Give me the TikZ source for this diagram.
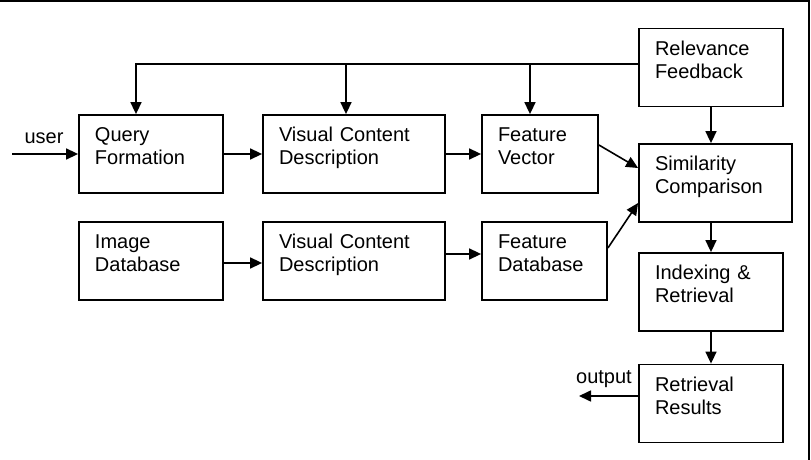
\documentclass[tikz,border=0pt]{standalone}
\usepackage{fontspec}
\setmainfont{Liberation Sans}
\usetikzlibrary{arrows.meta}

\begin{document}
\begin{tikzpicture}[x=0.5pt,y=-0.5pt,
	box/.style={draw, line width=0.9pt, inner xsep=8pt, inner ysep=0pt, text width=#1, align=left,
		text height=13.5pt, text depth=25.5pt, font=\fontsize{10}{11.5}\selectfont},
	arr/.style={-{Triangle[length=6pt,width=5.5pt]}, line width=0.8pt},
	lbl/.style={anchor=base, font=\fontsize{10}{11.5}\selectfont}]
	
	\useasboundingbox (0,0) rectangle (811,460);
	\draw[line width=1pt] (0,1) -- (809,1) -- (809,460);
	
	% upper row
	\node[box=56pt] (QF) at (151,154) {Query\\Formation};
	\node[box=75pt] (VCDa) at (354,154) {Visual Content\\Description};
	\node[box=42pt] (FV) at (540,154) {Feature\\Vector};
	
	% lower row
	\node[box=56pt] (ID) at (151,261) {Image\\Database};
	\node[box=75pt] (VCDb) at (354,261) {Visual Content\\Description};
	\node[box=46.5pt] (FD) at (544.5,261) {Feature\\Database};
	
	% right column
	\node[box=56pt] (RF) at (711,67.5) {Relevance\\Feedback};
	\node[box=60.5pt] (SC) at (715.5,183) {Similarity\\Comparison};
	\node[box=56pt] (IR) at (711,292) {Indexing \&\\Retrieval};
	\node[box=56pt] (RR) at (711,403.5) {Retrieval\\Results};
	
	\node[lbl] (user) at (44,144) {user};
	\node[lbl] (out) at (604,384) {output};
	
	\coordinate (uin) at (12,154);
	\coordinate (uout) at (579,396);
	\coordinate (fb1) at (136,64);
	\coordinate (fb2) at (346,64);
	\coordinate (fb3) at (530,64);
	
	\draw[arr] (uin) -- (QF.west);
	\draw[arr] (QF.east) -- (VCDa.west);
	\draw[arr] (VCDa.east) -- (FV.west);
	\draw[arr] ([yshift=-1pt]ID.east) -- ([yshift=-1pt]ID.east -| VCDb.west);
	\draw[arr] ([yshift=3.5pt]VCDb.east) -- ([yshift=3.5pt]VCDb.east -| FD.west);
	
	\draw[arr] ([yshift=4.5pt]FV.east) -- ([yshift=7.5pt]SC.west);
	\draw[arr] ([yshift=6.5pt]FD.east) -- ([yshift=-10pt]SC.west);
	
	% feedback
	\draw[arr] (RF.west |- fb1) -- (fb1) -- (fb1 |- QF.north);
	\draw[arr] (fb2) -- (fb2 |- VCDa.north);
	\draw[arr] (fb3) -- (fb3 |- FV.north);
	
	\draw[arr] (RF.south) -- (RF.south |- SC.north);
	\draw[arr] (SC.south -| IR.north) -- (IR.north);
	\draw[arr] (IR.south) -- (RR.north);
	\draw[arr] (RR.west |- uout) -- (uout);
	
\end{tikzpicture}
\end{document}
